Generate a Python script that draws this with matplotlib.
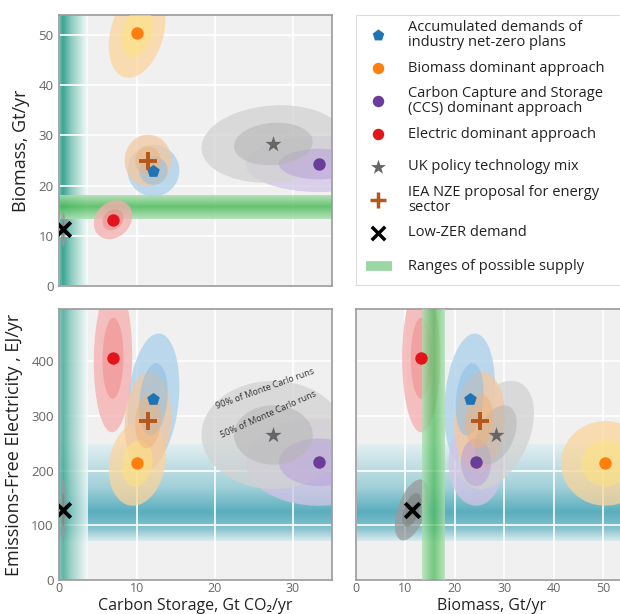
import numpy as np
import matplotlib
matplotlib.use("Agg")
import matplotlib.pyplot as plt
from matplotlib.patches import Ellipse
from matplotlib.lines import Line2D
from matplotlib.colors import to_rgb

plt.rcParams['font.family'] = ['Open Sans', 'DejaVu Sans']

# scenario data (mean and spread of Monte Carlo runs)
labels = ["Accumulated demands of\nindustry net-zero plans",
          "Biomass dominant approach",
          "Carbon Capture and Storage\n(CCS) dominant approach",
          "Electric dominant approach",
          "UK policy technology mix",
          "IEA NZE proposal for energy\nsector",
          "Low-ZER demand"]
cs_mean = [12.1, 10.0, 33.4, 6.9, 27.5, 11.4, 0.5]
bio_mean = [23.0, 50.5, 24.3, 13.2, 28.3, 25.0, 11.3]
efe_mean = [330, 213, 215, 405, 265, 290, 128]
cs_sd = [1.55, 1.7, 4.4, 1.15, 4.3, 1.4, 0.15]
bio_sd = [2.4, 4.2, 2.6, 1.8, 3.6, 2.4, 1.6]
efe_sd = [56, 36, 37, 63, 46, 42, 26]
rho_cs_bio = [0.0, 0.3, 0.0, 0.2, 0.1, 0.0, 0.0]
rho_cs_efe = [0.2, 0.15, 0.0, 0.05, 0.0, 0.1, 0.0]
rho_bio_efe = [0.2, 0.0, 0.0, 0.0, 0.4, 0.1, 0.5]

markers = ['p', 'o', 'o', 'o', '*', '+', 'x']
marker_colors = ['#1f74b5', '#ff7f0e', '#6a3d9a', '#e3151b', '#666666', '#b5561b', '#000000']
marker_sizes = [90, 80, 80, 80, 150, 150, 110]
outer_colors = ['#a9cfea', '#fbd59c', '#d3c4e6', '#f7aeae', '#d2d2d2', '#f3c8a0', '#9a9a9a']
inner_colors = ['#8dbde3', '#fde47e', '#b8a0d8', '#ef8a8a', '#b4b4b4', '#eeb47e', '#7a7a7a']

# supply ranges: positions across the band and their shading strength
cs_supply = [0.0, 0.5, 1.5, 3.7]
cs_shade = [0.7, 1.0, 0.6, 0.03]
bio_supply = [13.4, 15.8, 18.0]
bio_shade = [0.25, 1.0, 0.25]
efe_supply = [72, 95, 125, 170, 248]
efe_shade = [0.1, 0.7, 1.0, 0.5, 0.05]

K90, K50 = 2.146, 1.177


def cov_ellipse(ax, cx, cy, sx, sy, rho, k, color, alpha, z):
    cov = np.array([[sx * sx, rho * sx * sy], [rho * sx * sy, sy * sy]])
    vals, vecs = np.linalg.eigh(cov)
    ang = np.degrees(np.arctan2(vecs[1, 1], vecs[0, 1]))
    e = Ellipse((cx, cy), 2 * k * np.sqrt(vals[1]), 2 * k * np.sqrt(vals[0]),
                angle=ang, facecolor=color, edgecolor='none', alpha=alpha, zorder=z)
    ax.add_patch(e)


def band(ax, pos, shade, vertical, dark, light, alpha, z, span):
    lo, hi = pos[0], pos[-1]
    t = np.linspace(lo, hi, 300)
    inten = np.interp(t, pos, shade)
    d, l = np.array(to_rgb(dark)), np.array(to_rgb(light))
    rgb = l[None, :] + (d - l)[None, :] * inten[:, None]
    rgba = np.concatenate([rgb, np.full((len(t), 1), alpha)], axis=1)
    if vertical:
        img = rgba[None, :, :]
        ext = (lo, hi, span[0], span[1])
    else:
        img = rgba[::-1, None, :]
        ext = (span[0], span[1], lo, hi)
    ax.imshow(img, extent=ext, aspect='auto', interpolation='bilinear', zorder=z)


def style(ax, xlim, ylim, xticks, yticks, xlab, ylab):
    ax.set_facecolor('#f0f0f0')
    ax.set_xticks(xticks)
    ax.set_yticks(yticks)
    ax.grid(color='white', lw=1.2, zorder=0)
    ax.set_axisbelow(True)
    ax.tick_params(length=0, labelsize=9.5, colors='#666666', pad=4)
    ax.tick_params(axis='x', pad=1.5, labelsize=9)
    for s in ax.spines.values():
        s.set_color('#9a9a9a')
        s.set_linewidth(1.2)
    if not xlab:
        ax.set_xticklabels([])
    if not ylab:
        ax.set_yticklabels([])
    ax.set_xlim(*xlim)
    ax.set_ylim(*ylim)


def panel(ax, xm, ym, xs, ys, rho):
    for i in range(len(xm)):
        cov_ellipse(ax, xm[i], ym[i], xs[i], ys[i], rho[i], K90, outer_colors[i], 0.75, 2 + i * 0.01)
    for i in range(len(xm)):
        cov_ellipse(ax, xm[i], ym[i], xs[i], ys[i], rho[i], K50, inner_colors[i], 0.55, 3 + i * 0.01)
    for i in range(len(xm)):
        lw = 2.8 if markers[i] in '+x' else 0
        ax.scatter(xm[i], ym[i], marker=markers[i], s=marker_sizes[i], color=marker_colors[i],
                   linewidths=lw, zorder=6)


def bottom_label(ax, text):
    ax.set_xlabel(text, fontsize=11.5, color='#222222')
    ax.xaxis.label.set_va('bottom')
    ax.xaxis.set_label_coords(0.5, -33.5 / 271)


fig = plt.figure(figsize=(6.2, 6.14), dpi=100)
W, H = 620, 614
CS_LIM, BIO_LIM, EFE_LIM = (0, 35), (0, 54), (0, 495)
BIO_LIM_X = (0, 55)

ax1 = fig.add_axes([59.3 / W, 1 - 286 / H, 272.4 / W, 271 / H])
ax2 = fig.add_axes([59.3 / W, 1 - 580 / H, 272.4 / W, 271 / H])
ax3 = fig.add_axes([356 / W, 1 - 580 / H, 55 * 4.94 / W, 271 / H])
axl = fig.add_axes([356 / W, 1 - 285 / H, 300 / W, 270 / H])

TEAL, TEAL_L = '#3aa592', '#ffffff'
BLUE, BLUE_L = '#5aaebe', '#e9f2f4'
GREEN, GREEN_L = '#4cbb5a', '#cdeccf'

# top-left: biomass vs carbon storage
band(ax1, cs_supply, cs_shade, True, TEAL, TEAL_L, 1.0, 0.5, BIO_LIM)
band(ax1, bio_supply, bio_shade, False, GREEN, GREEN_L, 0.85, 0.6, CS_LIM)
panel(ax1, cs_mean, bio_mean, cs_sd, bio_sd, rho_cs_bio)
style(ax1, CS_LIM, BIO_LIM, [0, 10, 20, 30], [0, 10, 20, 30, 40, 50], False, True)
ax1.set_ylabel("Biomass, Gt/yr", fontsize=13, color='#222222', labelpad=6)

# bottom-left: electricity vs carbon storage
band(ax2, efe_supply, efe_shade, False, BLUE, BLUE_L, 1.0, 0.5, CS_LIM)
band(ax2, cs_supply, cs_shade, True, TEAL, TEAL_L, 0.8, 0.6, EFE_LIM)
panel(ax2, cs_mean, efe_mean, cs_sd, efe_sd, rho_cs_efe)
style(ax2, CS_LIM, EFE_LIM, [0, 10, 20, 30], [0, 100, 200, 300, 400], True, True)
ax2.set_ylabel("Emissions-Free Electricity , EJ/yr", fontsize=13, color='#222222', labelpad=6)
bottom_label(ax2, "Carbon Storage, Gt CO\u2082/yr")
ax2.text(26.4, 350, "90% of Monte Carlo runs", rotation=20, fontsize=6.5, color='#333333',
         ha='center', va='center', zorder=7)
ax2.text(26.9, 302, "50% of Monte Carlo runs", rotation=24, fontsize=6.5, color='#333333',
         ha='center', va='center', zorder=7)

# bottom-right: electricity vs biomass
band(ax3, efe_supply, efe_shade, False, BLUE, BLUE_L, 1.0, 0.5, BIO_LIM_X)
band(ax3, bio_supply, bio_shade, True, GREEN, GREEN_L, 0.75, 4.5, EFE_LIM)
panel(ax3, bio_mean, efe_mean, bio_sd, efe_sd, rho_bio_efe)
style(ax3, BIO_LIM_X, EFE_LIM, [0, 10, 20, 30, 40, 50], [0, 100, 200, 300, 400], True, False)
bottom_label(ax3, "Biomass, Gt/yr")

# legend panel
axl.set_xlim(0, 300)
axl.set_ylim(270, 0)
axl.set_xticks([])
axl.set_yticks([])
for s in axl.spines.values():
    s.set_color('#dddddd')
n = len(labels) + 1
ys = 20 + np.arange(n) * 33
for i in range(len(labels)):
    lw = 2.5 if markers[i] in '+x' else 0
    axl.scatter(22, ys[i], marker=markers[i], s=marker_sizes[i] * 0.85, color=marker_colors[i],
                linewidths=lw)
    axl.text(52, ys[i], labels[i], fontsize=10.5, color='#222222', va='center', linespacing=0.95)
axl.add_line(Line2D([10, 36], [ys[-1], ys[-1]], lw=7, color='#9bd7a3', solid_capstyle='butt'))
axl.text(52, ys[-1], "Ranges of possible supply", fontsize=10.5, color='#222222', va='center')

fig.savefig("out.png", dpi=100)
